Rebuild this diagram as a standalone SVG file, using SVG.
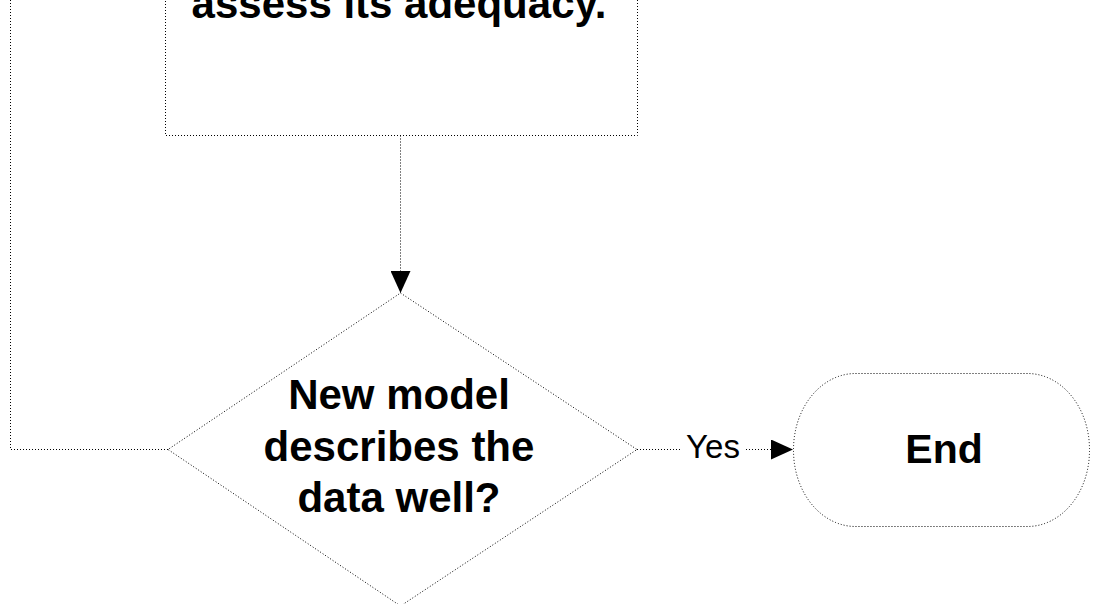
<svg xmlns="http://www.w3.org/2000/svg" width="1096" height="604" viewBox="0 0 1096 604">
  <style>
    .shape { fill: #ffffff; stroke: #000000; stroke-width: 1; stroke-dasharray: 1 2; }
    .conn { fill: none; stroke: #000000; stroke-width: 1; stroke-dasharray: 1 2; }
    .label { font-family: "Liberation Sans", Arial, sans-serif; font-weight: bold; font-size: 42px; fill: #000000; text-anchor: middle; }
    .edge-label { font-family: "Liberation Sans", Arial, sans-serif; font-size: 33px; fill: #000000; text-anchor: middle; }
  </style>
  <defs>
    <marker id="arrow" viewBox="0 0 22 20" refX="22" refY="10" markerWidth="22" markerHeight="20" markerUnits="userSpaceOnUse" orient="auto">
      <path d="M0,0 L22,10 L0,20 Z" fill="#000000"/>
    </marker>
  </defs>
  <rect width="1096" height="604" fill="#ffffff"/>

  <g id="connectors">
    <path class="conn" d="M400.5,135.5 L400.5,293" marker-end="url(#arrow)"/>
    <path class="conn" d="M168,449.5 L10.5,449.5 L10.5,-10"/>
    <path class="conn" d="M637,449.5 L680,449.5"/>
    <path class="conn" d="M746,449.5 L793,449.5" marker-end="url(#arrow)"/>
    <text class="edge-label" x="713" y="458">Yes</text>
  </g>

  <g id="node-assess">
    <rect class="shape" x="165.5" y="-20" width="472" height="155.5"/>
    <text class="label" x="399" y="18">assess its adequacy.</text>
  </g>

  <g id="node-decision">
    <polygon class="shape" points="400.5,293 637,449.5 400.5,606 168,449.5"/>
    <text class="label" x="399" y="409">New model</text>
    <text class="label" x="399" y="461">describes the</text>
    <text class="label" x="399" y="512">data well?</text>
  </g>

  <g id="node-end">
    <rect class="shape" x="793.5" y="373.5" width="296" height="153" rx="62" ry="76"/>
    <text class="label" x="944" y="463" style="font-size:41px">End</text>
  </g>
</svg>
